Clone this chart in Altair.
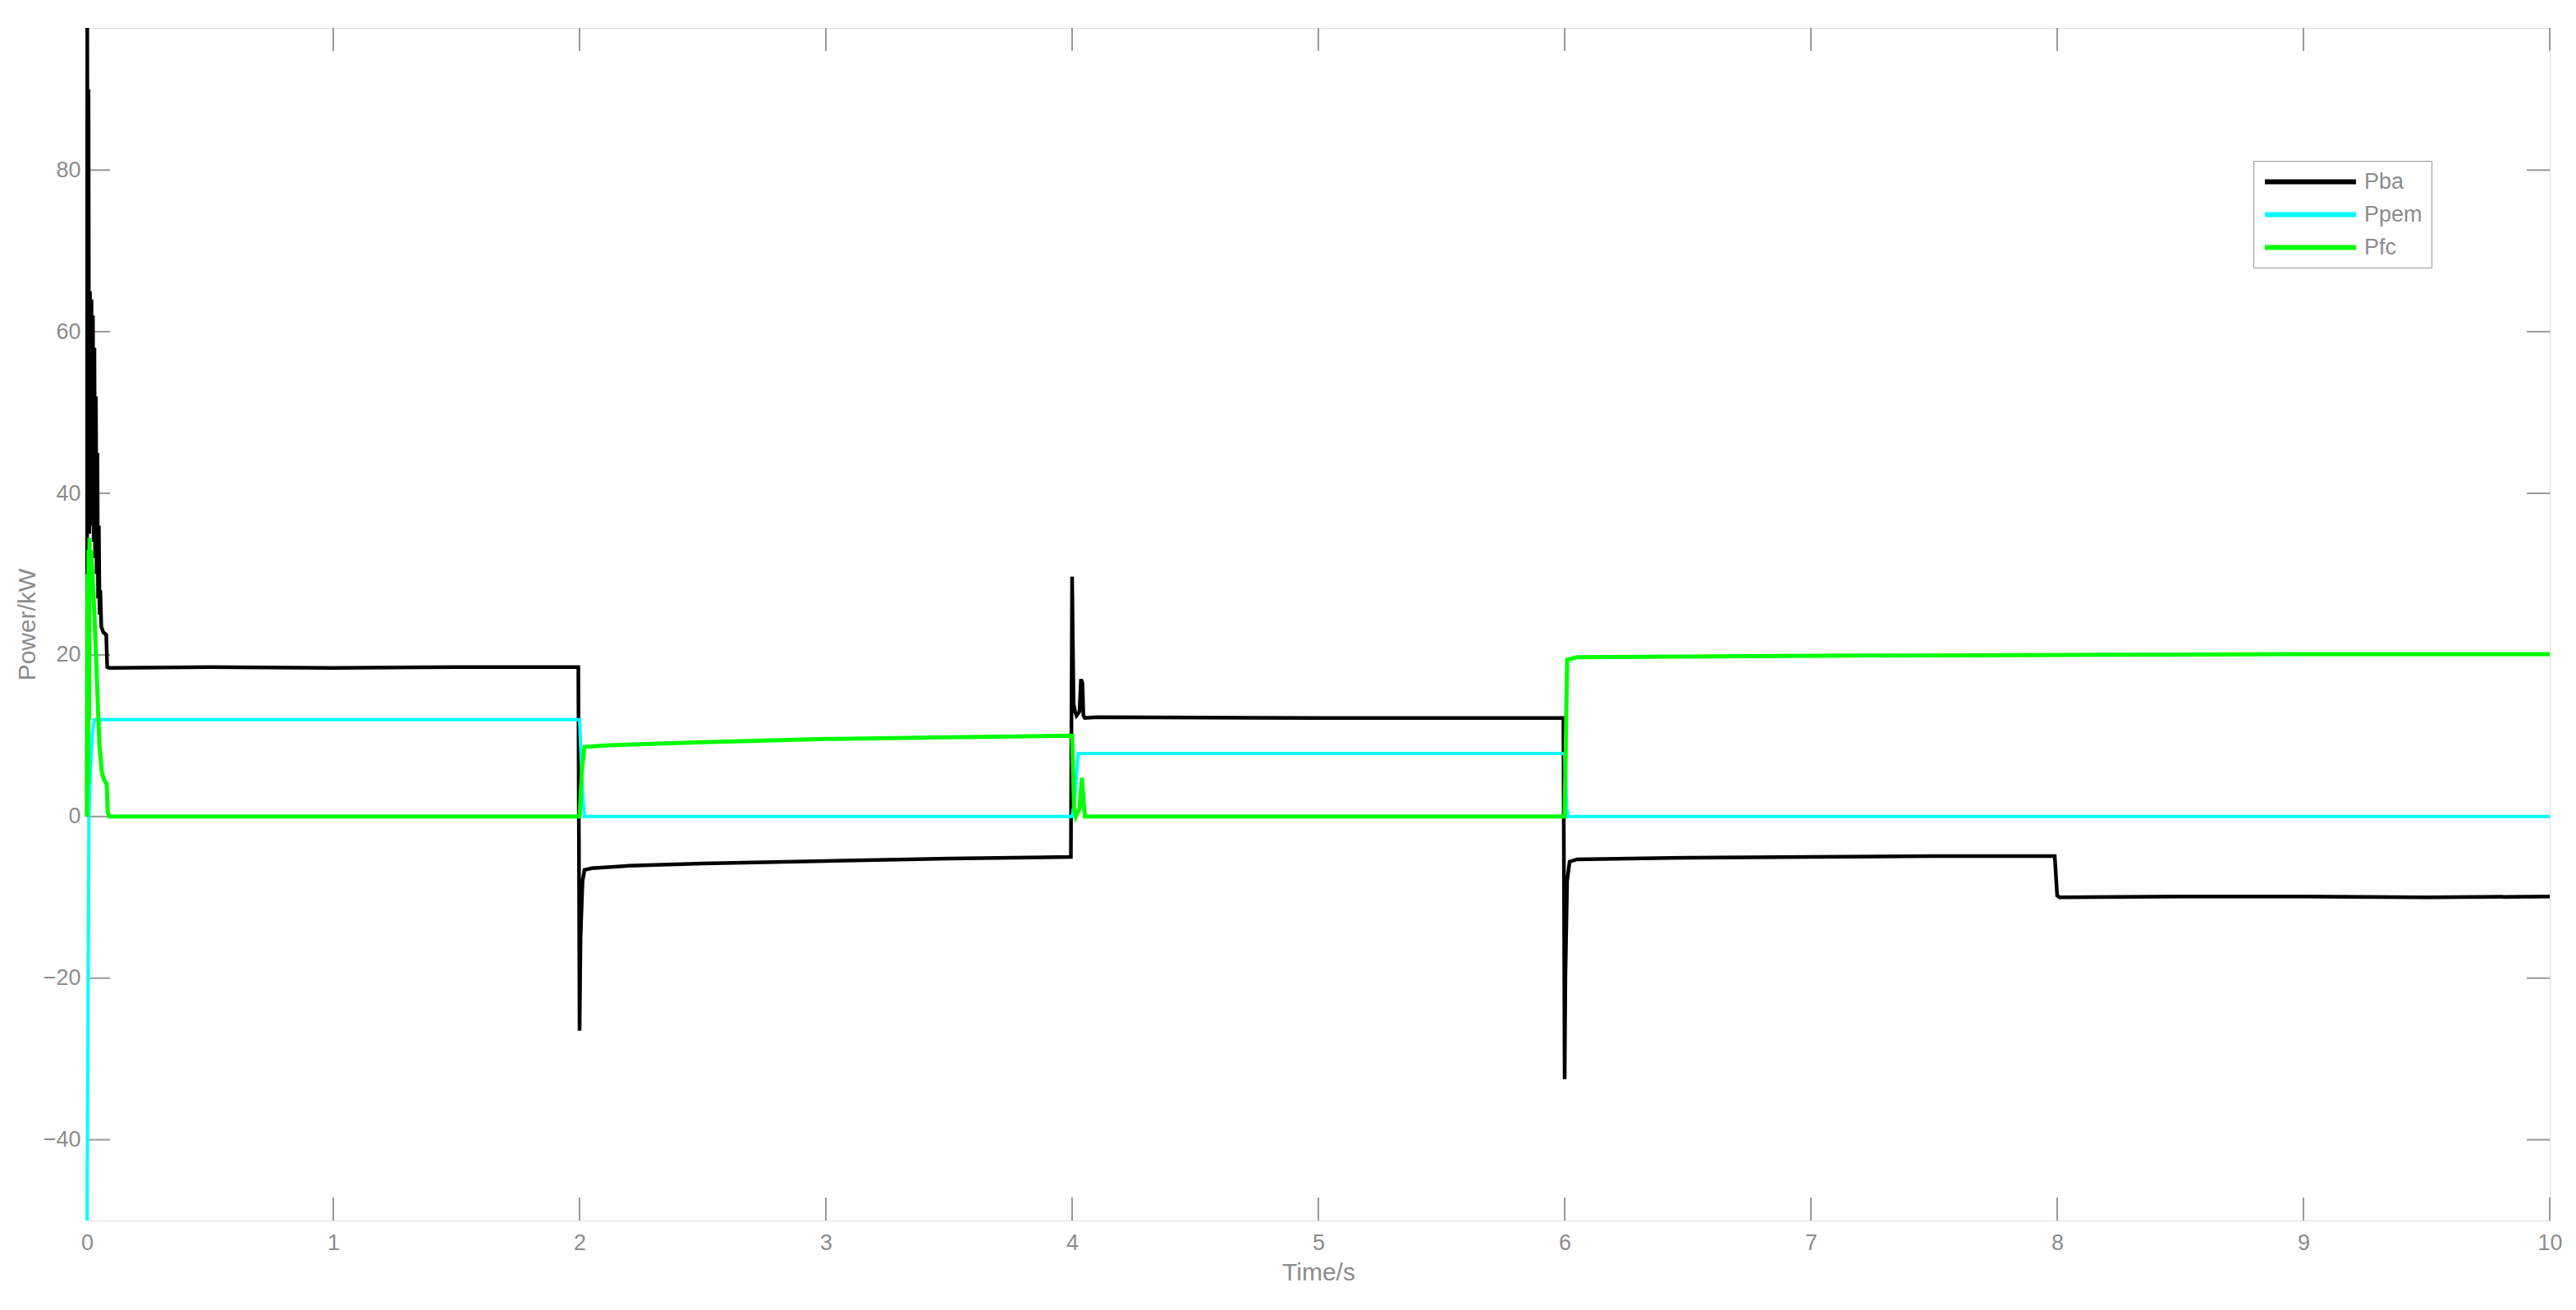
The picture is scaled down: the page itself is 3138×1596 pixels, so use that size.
import altair as alt
import pandas as pd

# ---- data ----
pba_t = [0.000, 0.001, 0.003, 0.006, 0.009, 0.012, 0.015, 0.018, 0.021, 0.024, 0.027, 0.030, 0.033,
         0.036, 0.039, 0.042, 0.045, 0.048, 0.051, 0.054, 0.058, 0.066, 0.078, 0.082, 0.090, 0.50, 1.00,
         1.50, 1.995, 2.000, 2.004, 2.012, 2.020, 2.050, 2.200, 2.500, 3.000, 3.500, 3.995, 4.000, 4.006,
         4.012, 4.018, 4.030, 4.036, 4.042, 4.046, 4.052, 4.100, 5.000, 5.995, 6.000, 6.003, 6.010, 6.020,
         6.050, 6.500, 7.000, 7.500, 7.990, 8.000, 8.010, 8.500, 9.000, 9.500, 10.000]
pba_v = [0.0, 97.6, 40.0, 90.0, 35.0, 65.0, 38.0, 64.0, 36.0, 62.0, 34.0, 58.0, 32.0,
         52.0, 30.0, 45.0, 27.0, 36.0, 25.0, 28.0, 23.5, 22.8, 22.5, 18.5, 18.4, 18.5, 18.4,
         18.5, 18.5, -26.5, -15.0, -8.0, -6.6, -6.4, -6.1, -5.8, -5.5, -5.2, -5.0, 29.7, 14.0,
         13.0, 12.5, 13.0, 17.0, 16.5, 12.5, 12.2, 12.3, 12.2, 12.2, -32.5, -20.0, -8.0, -5.6,
         -5.3, -5.1, -5.0, -4.9, -4.9, -9.8, -10.0, -9.9, -9.9, -10.0, -9.9]

ppem_t = [0.000, 0.004, 0.008, 0.014, 0.022, 0.030, 1.000, 1.995, 2.000, 2.012, 2.020, 3.000, 3.995,
          4.000, 4.010, 4.025, 5.000, 5.995, 6.000, 6.008, 6.015, 8.000, 10.000]
ppem_v = [-50.0, -25.0, 0.0, 6.0, 10.5, 12.0, 12.0, 12.0, 12.0, 3.0, 0.0, 0.0, 0.0,
          0.0, 2.0, 7.8, 7.8, 7.8, 7.8, 1.0, 0.0, 0.0, 0.0]

pfc_t = [0.000, 0.002, 0.004, 0.006, 0.008, 0.010, 0.012, 0.016, 0.022, 0.030, 0.040, 0.050, 0.060,
         0.070, 0.080, 0.084, 0.090, 1.000, 1.995, 2.000, 2.010, 2.020, 2.100, 2.500, 3.000, 3.500,
         3.995, 4.000, 4.008, 4.015, 4.030, 4.040, 4.046, 4.052, 4.100, 5.000, 5.995, 6.000, 6.010,
         6.050, 7.000, 8.000, 9.000, 10.000]
pfc_v = [0.0, 30.0, 4.0, 33.0, 12.0, 34.5, 30.0, 33.0, 30.0, 25.0, 17.0, 9.0, 5.5,
         4.5, 4.0, 0.5, 0.0, 0.0, 0.0, 0.0, 6.0, 8.6, 8.8, 9.2, 9.6, 9.8,
         10.0, 10.0, 1.0, 0.0, 1.0, 4.8, 2.0, 0.0, 0.0, 0.0, 0.0, 0.0, 19.4,
         19.7, 19.9, 20.0, 20.1, 20.1]

series_names = ["Pba", "Ppem", "Pfc"]
series_colors = ["#000000", "#00FFFF", "#00FF00"]
x_ticks = [0, 1, 2, 3, 4, 5, 6, 7, 8, 9, 10]
y_ticks = [-40, -20, 0, 20, 40, 60, 80]
x_domain = [0, 10]
y_domain = [-50, 97.6]


def frame(name, ts, vs):
    return pd.DataFrame({"t": ts, "p": vs, "series": name, "idx": range(len(ts))})


df_pba = frame("Pba", pba_t, pba_v)
df_ppem = frame("Ppem", ppem_t, ppem_v)
df_pfc = frame("Pfc", pfc_t, pfc_v)

W, H = 3000, 1453
GRAY = "#999999"
LABEL = "#8c8c8c"
FONT = "Liberation Sans"
TICK = 28

xs = alt.Scale(domain=x_domain, nice=False, zero=False)
ys = alt.Scale(domain=y_domain, nice=False, zero=False)
cs = alt.Scale(domain=series_names, range=series_colors)

x_enc = alt.X("t:Q", scale=xs, axis=alt.Axis(values=x_ticks, format="d", title="Time/s", ticks=False,
                                              domain=False, grid=False, labelFontSize=27, titleFontSize=30,
                                              labelColor=LABEL, titleColor=LABEL, labelPadding=14,
                                              labelFlush=False, titlePadding=8, titleFontWeight="normal",
                                              labelFont=FONT, titleFont=FONT))
y_enc = alt.Y("p:Q", scale=ys, axis=alt.Axis(values=y_ticks, format="d", title="Power/kW", ticks=False,
                                              domain=False, grid=False, labelFontSize=27, titleFontSize=30,
                                              labelColor=LABEL, titleColor=LABEL, labelPadding=8,
                                              labelFlush=False, titleFontWeight="normal", labelFont=FONT,
                                              titleFont=FONT, titleX=-58, titleY=H / 2))
color_enc = alt.Color("series:N", scale=cs, sort=series_names,
                      legend=alt.Legend(title=None, orient="none", legendX=2639, legendY=162,
                                        symbolType="M-5,0H5", symbolSize=493, symbolStrokeWidth=6,
                                        symbolOffset=44, labelOffset=51,
                                        labelFontSize=27, labelColor=LABEL, labelFont=FONT,
                                        strokeColor=GRAY, padding=11, rowPadding=12,
                                        fillColor="white", symbolOpacity=1))


def line(df, sw):
    return alt.Chart(df).mark_line(strokeWidth=sw, strokeJoin="miter", strokeCap="butt").encode(
        x=x_enc, y=y_enc, color=color_enc, order="idx:Q")


xt = pd.DataFrame({"t": x_ticks})
yt = pd.DataFrame({"p": y_ticks})
tick_x_bottom = alt.Chart(xt).mark_rule(color=GRAY, strokeWidth=2).encode(
    x=alt.X("t:Q", scale=xs), y=alt.value(H), y2=alt.value(H - TICK))
tick_x_top = alt.Chart(xt).mark_rule(color=GRAY, strokeWidth=2).encode(
    x=alt.X("t:Q", scale=xs), y=alt.value(0), y2=alt.value(TICK))
tick_y_left = alt.Chart(yt).mark_rule(color=GRAY, strokeWidth=2).encode(
    y=alt.Y("p:Q", scale=ys), x=alt.value(0), x2=alt.value(TICK))
tick_y_right = alt.Chart(yt).mark_rule(color=GRAY, strokeWidth=2).encode(
    y=alt.Y("p:Q", scale=ys), x=alt.value(W), x2=alt.value(W - TICK))

chart = alt.layer(
    tick_x_bottom, tick_x_top, tick_y_left, tick_y_right,
    line(df_pba, 4.5), line(df_ppem, 4), line(df_pfc, 5),
).properties(
    width=W, height=H,
    autosize=alt.AutoSizeParams(type="none"),
    padding={"left": 98, "top": 26, "right": 20, "bottom": 100},
).configure_view(
    stroke=GRAY, strokeWidth=2
).configure(background="white")

chart.save("out.html", embed_options={"renderer": "svg", "actions": False})
